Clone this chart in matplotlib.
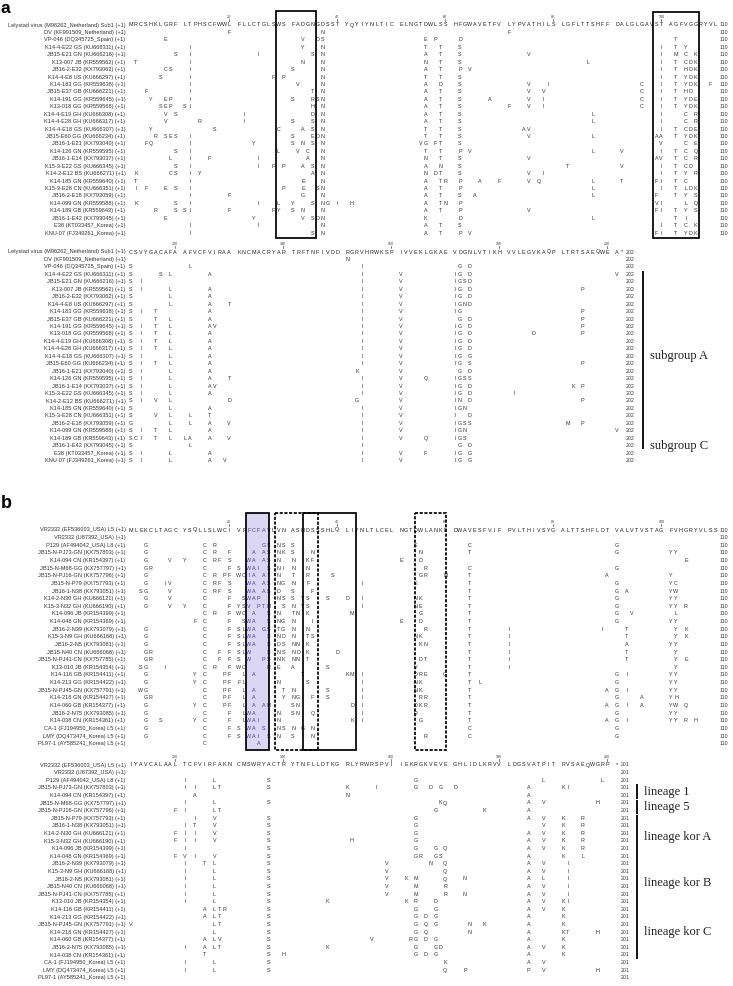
import matplotlib
matplotlib.use('Agg')
import matplotlib.pyplot as plt
from matplotlib.patches import Rectangle

# ---------------- data ----------------
names_a = [
    'Lelystad virus (M96262_Netherland) Sub1 (+1)', 'DV (KF991509_Netherland) (+1)',
    'VP-046 (DQ345725_Spain) (+1)', 'K14-4-E22 GS (KU666311) (+1)', 'JB15-E21 GN (KU666216) (+1)',
    'K13-007 JB (KR559562) (+1)', 'JB16-2-E32 (KX793062) (+1)', 'K14-4-E8 US (KU666297) (+1)',
    'K14-183 GG (KR559638) (+1)', 'JB15-E37 GB (KU666221) (+1)', 'K14-191 GG (KR559645) (+1)',
    'K13-018 GG (KR559568) (+1)', 'K14-4-E19 GH (KU666308) (+1)', 'K14-4-E28 GH (KU666317) (+1)',
    'K14-4-E18 GS (KU666307) (+1)', 'JB15-E60 GG (KU666234) (+1)', 'JB16-1-E21 (KX793040) (+1)',
    'K14-126 GN (KR559595) (+1)', 'JB16-1-E14 (KX793037) (+1)', 'K15-3-E22 GS (KU666345) (+1)',
    'K14-2-E12 BS (KU666271) (+1)', 'K14-185 GN (KR559640) (+1)', 'K15-3-E28 CN (KU666351) (+1)',
    'JB16-2-E18 (KX793059) (+1)', 'K14-099 GN (KR559588) (+1)', 'K14-189 GB (KR559643) (+1)',
    'JB16-1-E42 (KX793045) (+1)', 'E38 (KT033457_Korea) (+1)', 'KNU-07 (FJ349261_Korea) (+1)',
]
ref_a_top = ('MRCSHKLGRF' 'LTPHSCFWWL' 'FLLCTGLSWS' 'FADGNGDSST' 'YQYIYNLTIC' 'ELNGTDWLSS'
             'HFGWAVETFV' 'LYPVATHILS' 'LGFLTTSHFF' 'DALGLGAVST' 'AGFVGGRYVL')
ref_a_bot = ('CSVYGACAFA' 'AFVCFVIRAA' 'KNCMACRYAR' 'TRFTNFIVDD' 'RGRVHRWKSP' 'IVVEKLGKAE'
             'VDGNLVTIKH' 'VVLEGVKAQP' 'LTRTSAEQWE' 'A*')
# variants: "<residue><letters>" ; everything else is identical (dot)
var_a_top = [
    '20F 37N 71F',
    '8E 33V 36DS 56E 58P 62D 102T',
    '12I 33Y 37N 56T 59T 62S 100I 102T 104Y',
    '10S 12I 25I 35S 37N 56A 59T 62S 75V 100I 102M 104C 106K',
    '2T 12I 33N 37N 56N 59T 62S 86L 100I 102T 104CDK',
    '8CS 12I 31S 37N 56A 59T 62P 64V 100I 102T 104HDK',
    '7S 12I 28F 30P 37N 56T 59T 62S 100I 102T 104YDK',
    '12I 32V 37N 56A 59D 62S 75V 79I 96C 100I 102T 104YDK 109F',
    '4F 12I 35T 37N 56A 59T 62S 75V 78V 96C 100I 102T 104HD',
    '5Y 8EP 12I 31S 35RSN 56A 59T 62S 68A 75V 78I 96C 100I 102T 104YDE',
    '7SEP 11SI 35H 37N 56A 59T 62S 71F 75V 78I 96C 100I 102T 104YDK',
    '8V 10S 22I 35D 37N 56A 59T 62S 87L 100I 104C 106R',
    '8V 14R 22I 31S 35S 37N 56A 59T 62S 87L 100I 104C 106R',
    '5Y 17S 29C 33A 35S 37N 56T 59T 62S 74AV 100I 102T 104CDE',
    '6R 8SE 10S 12I 31S 35EDN 56T 59T 62S 75V 87L 99AA 102T 104YDK',
    '4FQ 12I 24Y 31S 33N 35S 37N 55VG 58FT 62S 100V 104C 106E',
    '10S 12I 29L 32V 34C 37N 56T 59T 62P 64V 87L 92V 100I 102T 104C 106Q',
    '9L 12I 16F 25I 34A 37N 56N 59T 62S 75V 99AV 102T 104C 106R',
    '10S 12I 25I 28F 30P 33A 35S 37N 56A 59N 62S 82T 92V 100I 102T 104CD',
    '2K 9CS 12I 14Y 35A 37N 56N 58DT 62S 75V 78I 100I 102T 104Y 106R',
    '2T 12I 33E 37N 56A 59TR 62P 66A 70F 75V 77Q 87L 92T 99FI 102T 104C',
    '2I 4F 8E 10S 12I 30P 33E 36SN 56A 59T 62P 87L 100I 102T 104LDK',
    '12I 20F 33G 37N 56A 59T 62S 65A 87L 99F 102T 104Y 106S',
    '2K 10S 12I 25I 29L 31Y 35S 37NG 40I 42H 56A 59TN 62P 99VI 104L 106Q',
    '6R 10SSI 20F 28FY 31S 33N 37N 56A 59T 62P 75V 99FI 102T 104Y 106S',
    '8E 24Y 33V 35SDN 56K 62D 87L 102T 104I',
    '12I 25I 37N 56A 59T 62S 100I 102T 104C 106K',
    '12I 35S 37N 56A 59T 62P 64V 99FI 102T 104YDK',
]
var_a_bot = [
    '151N',
    '111S 122L 154I 172G 174D',
    '111S 117S 119L 126A 154I 161V 171IG 174D 201V',
    '111S 113I 154I 161V 171IGSD',
    '111S 113I 119L 126A 154I 161V 171IG 174D 195P',
    '111S 119L 126A 154I 161V 171IG 174D',
    '111S 119L 126A 130T 154I 161V 171IGND',
    '111S 113I 116T 126A 154I 161V 171IG 195P',
    '111S 116T 119L 126A 154I 161V 172G 174D 195P',
    '111S 113I 116T 119L 126AV 154I 161V 171IG 174D 195P',
    '111S 113I 116T 119L 126A 154I 161V 171IG 174D 186D 195P',
    '111S 113I 116T 119L 126A 154I 161V 171IG 174D',
    '111S 113I 116T 119L 126A 154I 161V 171IG 174D',
    '111S 113I 119L 126A 154I 161V 171IG 174G',
    '111S 113I 116T 119L 126A 154I 161V 171IG 174S 195P',
    '111S 113I 119L 126A 153K 161V 172G 174D',
    '111S 113I 119L 126A 130T 154I 161V 166Q 171IGSS',
    '111S 113I 119L 126AV 154I 161V 171IG 174D 193K 195P',
    '111S 113I 119L 126A 154I 161V 171IG 174D 182I',
    '111S 113I 116V 119L 130D 153G 161V 171IN 174D 195P',
    '111S 119L 126A 154I 161V 171IGN',
    '111S 116V 119L 122L 126T 154I 161V 171I 174D',
    '111G 119L 122L 126A 130V 154I 161V 171IGSS 192M 195P',
    '111S 113I 116T 119L 126A 154I 161V 171IGN 201V',
    '111SCI 116T 119L 121LA 126A 130V 154I 161V 166Q 171IGS',
    '111S 122L 154I 172G 174D',
    '111S 113I 119L 126A 154I 161V 166F 171IG 174G',
    '111S 113I 119L 126A 129V 154I 161V 171IG 174G',
]

names_b = [
    'VR2332 (EF536003_USA) L5 (+1)', 'VR2332 (U87392_USA) (+1)', 'P129 (AF494042_USA) L8 (+1)',
    'JB15-N-PJ73-GN (KX757803) (+1)', 'K14-094 CN (KR154397) (+1)', 'JB15-N-M68-GG (KX757797) (+1)',
    'JB15-N-PJ16-GN (KX757796) (+1)', 'JB15-N-P79 (KX757793) (+1)', 'JB16-1-N38 (KX793051) (+1)',
    'K14-2-N30 GH (KU666121) (+1)', 'K15-3-N32 GH (KU666190) (+1)', 'K14-096 JB (KR154399) (+1)',
    'K14-048 GN (KR154369) (+1)', 'JB16-2-N39 (KX793079) (+1)', 'K15-3-N9 GH (KU666168) (+1)',
    'JB16-2-N5 (KX793081) (+1)', 'JB15-N40 CN (KU666068) (+1)', 'JB15-N-PJ41-CN (KX757785) (+1)',
    'K13-010 JB (KR154354) (+1)', 'K14-116 GB (KR154411) (+1)', 'K14-213 GG (KR154422) (+1)',
    'JB15-N-PJ45-GN (KX757791) (+1)', 'K14-218 GN (KR154427) (+1)', 'K14-060 GB (KR154377) (+1)',
    'JB16-2-N75 (KX793085) (+1)', 'K14-038 CN (KR154361) (+1)', 'CA-1 (FJ194950_Korea) L5 (+1)',
    'LMY (DQ473474_Korea) L5 (+1)', 'PL97-1 (AY585241_Korea) L5 (+1)',
]
ref_b_top = ('MLEKCLTAGC' 'YSQLLSLWCI' 'VPFCFAVLVN' 'ASNDSSSHLQ' 'LIYNLTLCEL' 'NGTDWLANKF'
             'DWAVESFVIF' 'PVLTHIVSYG' 'ALTTSHFLDT' 'VALVTVSTAG' 'FVHGRYVLSS')
ref_b_bot = ('IYAVCALAAL' 'TCFVIRFAKN' 'CMSWRYACTR' 'YTNFLLDTKG' 'RLYRWRSPVI' 'IEKRGKVEVE'
             'GHLIDLKRVV' 'LDGSVATPIT' 'RVSAEQWGRP' '*')
var_b_top = [
    '',
    '4G 15C 17R 26GS 29NSS 54E 64C 91G',
    '4G 15C 17R 20F 24A 26AS 29NKS 35N 55N 64T 91G 101YY',
    '4G 9V 11Y 15C 17R 18F 20S 23WA 26AS 29N 31N 34KF 51E 55D 104E',
    '4GR 15C 20F 21S 23WAI 27S 29NIN 34N 56R 64C 91G',
    '4G 15C 17R 19PF 21WCIA 26AT 29N 31T 34R 39S 55GR 60N 64T 90A 101Y',
    '4G 8IV 15C 17R 18F 20S 23WA 26AS 29NGN 34F 44I 54K 64T 91G 101YC',
    '3SG 9V 15C 17R 18F 20S 23WA 26AS 29D 31S 35F 64T 91G 93A 101YW',
    '4G 9V 15C 20F 22SWAP 29NSS 33YS 38S 41D 44I 54NK 64T 91G 101YY',
    '4G 9V 11Y 15C 20F 21YSV 25PTH 30SN 33YS 44I 54NE 64T 91G 101YY 104R',
    '15C 17R 20F 21WC 24A 27S 29N 31TN 34K 42M 55G 64T 91G 94V 102L',
    '13F 15C 20F 22SWA 27S 29NGN 35I 51E 55D 64T 91G 101YY',
    '4G 15C 20F 21SLWA 26GS 29TGN 34N 56R 64T 71I 89I 93T 102Y 104K',
    '4G 15C 20F 21SLWA 27S 29NDN 34TS 54NK 64T 71I 93T 102Y 104K',
    '4G 15C 20F 21SLWA 27S 29DSNN 34K 55KN 64T 71I 93A 101YY',
    '4GR 15C 18F 20F 21SLW 27S 29NSND 34K 40D 64T 71I 93T 102Y',
    '4GR 15C 18F 20F 21S 23W 26PS 29NKNN 34T 55DT 64T 71I 93T 102Y 104E',
    '3SG 8I 15C 17R 20F 21WC 27R 29E 31A 38S 54V 64T 71I 102Y',
    '4G 13Y 15C 19PF 22L 24A 33T 41KM 44I 54DRE 60G 64T 91G 93I 101YY',
    '4G 13Y 15C 19PFF 22L 29N 34S 44I 54NK 64T 66L 91G 101YY',
    '3WG 15C 19PF 22L 24A 30TN 38S 44I 54NK 64T 90A 91G 93I 101YY',
    '4GR 15C 19PF 22L 24A 30YNG 35F 38S 44I 55RR 64T 91G 96A 101YH',
    '4G 13Y 15C 19PF 22L 24A 26AH 31SN 42D 44I 54DKR 64T 90AG 93I 96A 101YW 104Q',
    '4G 15C 20F 22LWA 29N 31SN 35Q 44I 54R 64T 91G 101YY',
    '4G 7S 13Y 15C 20F 22LWAI 29N 42K 44I 55G 64T 90AG 93I 101YY 104R 106H',
    '4G 15C 20F 21S 23WA 26S 29NSN 33G 35N 64C 91G',
    '4G 15C 20F 21S 23WAI 27S 29N 31S 35N 56R 64C 91G',
    '15C 25A',
]
var_b_bot = [
    '',
    '121I 127L 137S 164G 188L 199L',
    '121I 123I 127LT 137S 151K 157I 164G 167D 169G 171D 185A 191KI',
    '123A 151N 185A',
    '121I 127L 137S 169KQ 185A 188V 198H',
    '120F 121I 127LT 168G 177K 185A',
    '123I 127V 137S 164G 185A 188V 191K 195R',
    '121I 123T 127V 137S 164G 188V 191K 195R',
    '120F 121I 123I 127V 137S 164G 185A 188V 191K 195R',
    '120F 121I 123I 127V 137S 152H 164G 185A 188V 191K 195R',
    '121I 137S 164G 168G 170Q 185A 188V 191K 195R',
    '120F 121V 123I 127V 137S 164GR 168GS 185A 191K 195L',
    '121I 125T 127L 137S 159V 167N 170Q 185A 188V 192I',
    '121I 127L 137S 159V 170Q 185A 188V 192I',
    '121I 127L 137S 159V 162K 164M 170Q 173N 185A 188L 192I',
    '121I 127L 137S 159V 164M 170R 185A 188V 192I',
    '121I 127L 137S 159V 164M 170R 173N 185A 188V 192I',
    '121I 127L 137S 148K 162K 164R 168D 185A 188V 191KI',
    '125A 127LTR 137S 164G 168G 185A 188V 191K',
    '125A 127LT 137S 164G 166D 168G 185A 191K',
    '111V 127LT 137S 164G 166Q 168G 174N 177K 185A 191K',
    '127L 137S 164G 166Q 174N 185A 191KT 198H',
    '125A 127LV 137S 156V 163RG 166D 168G 185A 191K',
    '121I 125A 127LT 137S 148K 164G 168GD 185A 188V 191K',
    '125T 137S 140H 164G 166D 168G 185A 191K',
    '121I 127L 137S 170K 185A 188V',
    '121I 127L 137S 170Q 173P 185P 188V 198H',
    '',
]

ticks_top = [20, 40, 60, 80, 100]
ticks_bot_a = [120, 140, 160, 180, 200]
# boxed regions (residue ranges)
box_a_solid = (28.5, 35.7)
box_a_dashed = (98.4, 106.7)
box_b_shade = (22.4, 27.2)
box_b_dashed1 = (28.4, 36.15)
box_b_solid = (33.0, 42.8)
box_b_dashed2 = (53.85, 60.15)
# groups (row index ranges)
groups_a = [('subgroup A', 3, 25), ('subgroup C', 26, 26)]
groups_b = [('lineage 1', 3, 4), ('lineage 5', 5, 6), ('lineage kor A', 7, 12),
            ('lineage kor B', 13, 18), ('lineage kor C', 19, 25)]

# ---------------- layout ----------------
X0 = 131.0
W = 4.91
NAME_X = 125.5
SANS = 'Liberation Sans'
SERIF = 'Liberation Serif'


def parse(s):
    out = {}
    for tok in s.split():
        i = 0
        while tok[i].isdigit():
            i += 1
        p = int(tok[:i])
        for k, ch in enumerate(tok[i:]):
            out[p + k] = ch
    return out


def xres(r, start):
    k = int(r) - start
    return X0 + (k + k // 10) * W + (r - int(r)) * W


def draw_block(ax, names, ref, var, start, y0, dy, ticks, shade=None):
    n = len(ref)
    end = start + n - 1
    ys = [y0 + i * dy for i in range(len(names))]
    for t in ticks:
        x = xres(t, start)
        ax.text(x, y0 - 8.3, str(t), ha='center', va='center', fontsize=2.6,
                family=SANS, color='#333333')
        ax.plot([x, x], [y0 - 6.4, y0 - 3.6], color='#333333', lw=0.45)
    dx, dyy = [], []
    for i, name in enumerate(names):
        y = ys[i]
        ax.text(NAME_X, y, name, ha='right', va='center', fontsize=4.1,
                family=SANS, color='#333333')
        v = {start + k: ch for k, ch in enumerate(ref)} if i == 0 else parse(var[i - 1])
        for k in range(n):
            r = start + k
            x = xres(r, start)
            if r in v:
                col = '#1e1e1e' if i == 0 else '#333333'
                if shade and shade[0] < r < shade[1] + 0.5:
                    col = '#4a3c9c'
                ax.text(x, y, v[r], ha='center', va='center', fontsize=3.9,
                        family=SANS, color=col, zorder=3)
            else:
                dx.append(x)
                dyy.append(y + 1.3)
        ax.text(xres(end, start) + 4.0, y, str(end), ha='left', va='center',
                fontsize=3.8, family=SANS, color='#333333')
    ax.scatter(dx, dyy, s=0.5, marker='s', color='#8a8a8a', linewidths=0, zorder=2)
    return ys


def box(ax, rng, start, ytop, ybot, dashed=False, face=None):
    x1 = xres(rng[0], start)
    x2 = xres(rng[1], start)
    ls = (0, (1.8, 0.9)) if dashed else '-'
    if face:
        ax.add_patch(Rectangle((x1, ytop), x2 - x1, ybot - ytop, facecolor=face,
                               edgecolor='none', zorder=1))
    ax.add_patch(Rectangle((x1, ytop), x2 - x1, ybot - ytop, fill=False,
                           edgecolor='black', lw=1.25, ls=ls, zorder=4))


def brackets(ax, groups, ys, xb, dy):
    for label, i1, i2 in groups:
        y1 = ys[i1] - dy * 0.45
        y2 = ys[i2] + dy * 0.5
        ax.plot([xb, xb], [y1, y2], color='black', lw=1.3, solid_capstyle='butt')
        ax.text(xb + 7.5, (y1 + y2) / 2, label, ha='left', va='center',
                fontsize=9, family=SERIF, color='#222222')


fig = plt.figure(figsize=(7.33, 9.86), dpi=100)
ax = fig.add_axes([0, 0, 1, 1])
ax.set_xlim(0, 733)
ax.set_ylim(986, 0)
ax.axis('off')

# panel a
ax.text(0.5, 1.0, 'a', ha='left', va='top', fontsize=12.5, fontweight='bold', family=SANS)
ys = draw_block(ax, names_a, ref_a_top, var_a_top, 1, 25.0, 7.43, ticks_top)
box(ax, box_a_solid, 1, 11, ys[-1] + 4.5)
box(ax, box_a_dashed, 1, 12, ys[-1] + 5)
ys = draw_block(ax, names_a, ref_a_bot, var_a_bot, 111, 252.0, 7.45, ticks_bot_a)
brackets(ax, groups_a, ys, 643, 7.45)

# panel b
ax.text(0.5, 503, 'b', ha='left', va='center', fontsize=13, fontweight='bold', family=SANS)
ys = draw_block(ax, names_b, ref_b_top, var_b_top, 1, 530.0, 7.63, ticks_top, shade=box_b_shade)
ybot = ys[-1] + 6
box(ax, box_b_shade, 1, 513, ybot, face='#dad6f3')
box(ax, box_b_dashed1, 1, 513, ybot, dashed=True)
box(ax, box_b_solid, 1, 513, ybot)
box(ax, box_b_dashed2, 1, 513, ybot, dashed=True)
ys = draw_block(ax, names_b, ref_b_bot, var_b_bot, 111, 765.0, 7.6, ticks_bot_a)
brackets(ax, groups_b, ys, 637, 7.6)

fig.savefig('out.png', dpi=100)
